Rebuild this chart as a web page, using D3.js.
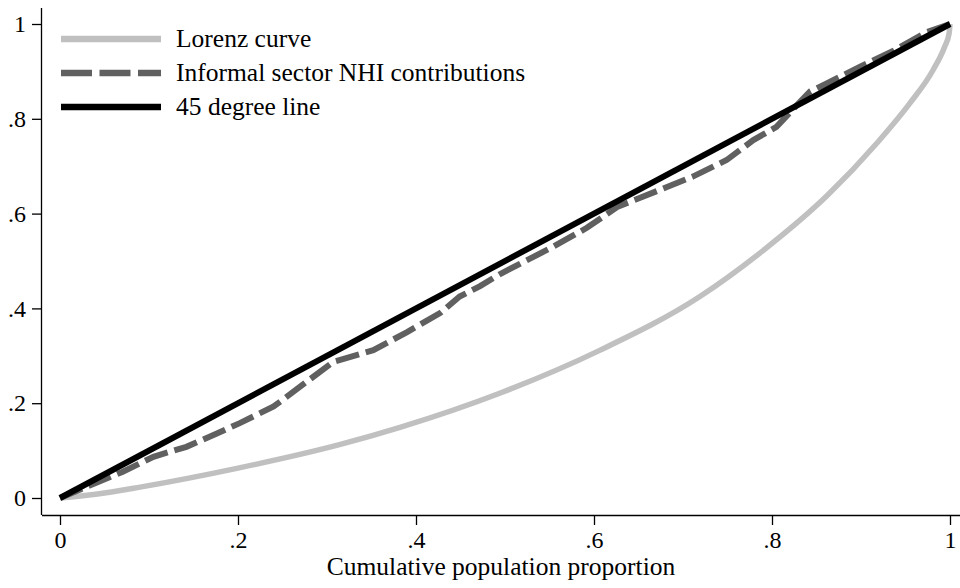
<!DOCTYPE html>
<html>
<head>
<meta charset="utf-8">
<script src="https://cdn.jsdelivr.net/npm/d3@7"></script>
<style>
  html, body { margin: 0; padding: 0; background: #fff; }
  text { font-family: "Liberation Serif", "Times New Roman", serif; }
</style>
</head>
<body>
<div id="wrapper"></div>
<script>
// values
const lorenzX = [0, 0.04, 0.09, 0.2, 0.315, 0.382, 0.494, 0.607, 0.719, 0.79, 0.862, 0.918, 0.955, 0.981, 0.994, 0.999, 1];
const lorenzY = [0, 0.008, 0.023, 0.063, 0.113, 0.149, 0.221, 0.312, 0.425, 0.522, 0.638, 0.749, 0.833, 0.903, 0.952, 0.98, 1];

const informalX = [0, 0.034, 0.07, 0.105, 0.142, 0.175, 0.202, 0.24, 0.277, 0.307, 0.352, 0.39, 0.427, 0.449, 0.472, 0.494, 0.554, 0.592, 0.626, 0.674, 0.711, 0.749, 0.779, 0.805, 0.831, 0.843, 0.862, 0.899, 0.936, 0.974, 1];
const informalY = [0, 0.027, 0.055, 0.087, 0.108, 0.135, 0.158, 0.193, 0.245, 0.287, 0.312, 0.35, 0.39, 0.425, 0.447, 0.472, 0.53, 0.57, 0.614, 0.65, 0.678, 0.713, 0.755, 0.783, 0.835, 0.858, 0.875, 0.91, 0.943, 0.983, 1];

const diagonalX = [0, 1];
const diagonalY = [0, 1];

const xTicks = [0, 0.2, 0.4, 0.6, 0.8, 1];
const yTicks = [0, 0.2, 0.4, 0.6, 0.8, 1];

const seriesNames = ['Lorenz curve', 'Informal sector NHI contributions', '45 degree line'];

const lorenz = lorenzX.map((x, i) => ({ x: x, y: lorenzY[i] }));
const informal = informalX.map((x, i) => ({ x: x, y: informalY[i] }));
const diagonal = diagonalX.map((x, i) => ({ x: x, y: diagonalY[i] }));

const dimensions = {
    width: 960,
    height: 588,
    margin: { top: 8, right: 0, bottom: 73, left: 42 }
};
dimensions.boundedWidth = dimensions.width - dimensions.margin.left - dimensions.margin.right;
dimensions.boundedHeight = dimensions.height - dimensions.margin.top - dimensions.margin.bottom;

const fmt = d => d === 0 ? '0' : d === 1 ? '1' : d3.format('.1f')(d).replace(/^0/, '');

const wrapper = d3.select('#wrapper')
    .append('svg')
    .attr('width', dimensions.width)
    .attr('height', dimensions.height);

const bounds = wrapper.append('g')
    .attr('transform', `translate(${dimensions.margin.left},${dimensions.margin.top})`);

// plot region padded like stata: 0 -> 60px, 1 -> 950px
const xScale = d3.scaleLinear()
    .domain([0, 1])
    .range([60 - dimensions.margin.left, 950 - dimensions.margin.left]);

const yScale = d3.scaleLinear()
    .domain([0, 1])
    .range([498 - dimensions.margin.top, 24 - dimensions.margin.top]);

const lineGenerator = d3.line()
    .x(d => xScale(d.x))
    .y(d => yScale(d.y));

bounds.append('path')
    .datum(lorenz)
    .attr('d', lineGenerator.curve(d3.curveMonotoneX))
    .attr('fill', 'none')
    .attr('stroke', '#c0c0c0')
    .attr('stroke-width', 5.5);

bounds.append('path')
    .datum(informal)
    .attr('d', lineGenerator.curve(d3.curveLinear))
    .attr('fill', 'none')
    .attr('stroke', '#606060')
    .attr('stroke-width', 6)
    .attr('stroke-dasharray', '24,7');

bounds.append('path')
    .datum(diagonal)
    .attr('d', lineGenerator.curve(d3.curveLinear))
    .attr('fill', 'none')
    .attr('stroke', '#000')
    .attr('stroke-width', 6);

const xAxisGenerator = d3.axisBottom(xScale)
    .tickValues(xTicks)
    .tickFormat(fmt)
    .tickSize(10)
    .tickPadding(6)
    .tickSizeOuter(0);

const xAxis = bounds.append('g')
    .attr('transform', `translate(0,${dimensions.boundedHeight})`)
    .call(xAxisGenerator);
xAxis.select('.domain').attr('d', `M0,0.5H${dimensions.boundedWidth}`);

const yAxisGenerator = d3.axisLeft(yScale)
    .tickValues(yTicks)
    .tickFormat(fmt)
    .tickSize(10)
    .tickPadding(6)
    .tickSizeOuter(0);

const yAxis = bounds.append('g')
    .call(yAxisGenerator);
yAxis.select('.domain').attr('d', `M-0.5,0V${dimensions.boundedHeight}`);

bounds.selectAll('.tick text')
    .attr('fill', '#000')
    .style('font-size', '24px');
bounds.selectAll('.domain, .tick line')
    .attr('stroke', '#000')
    .attr('stroke-width', 1.3);

bounds.append('text')
    .attr('x', dimensions.boundedWidth / 2)
    .attr('y', dimensions.boundedHeight + 60)
    .attr('text-anchor', 'middle')
    .attr('fill', '#000')
    .style('font-size', '25.5px')
    .text('Cumulative population proportion');

// legend
const legendStyles = [
    { stroke: '#c0c0c0', dash: null },
    { stroke: '#606060', dash: '31,7.5' },
    { stroke: '#000', dash: null }
];

const legend = wrapper.append('g')
    .attr('transform', 'translate(61,39)');

const items = legend.selectAll('g')
    .data(seriesNames)
    .enter()
    .append('g')
    .attr('transform', (d, i) => `translate(0,${i * 34})`);

items.append('line')
    .attr('x1', 0)
    .attr('x2', 100)
    .attr('stroke', (d, i) => legendStyles[i].stroke)
    .attr('stroke-width', 6.5)
    .attr('stroke-dasharray', (d, i) => legendStyles[i].dash);

items.append('text')
    .attr('x', 115)
    .attr('y', 8)
    .attr('fill', '#000')
    .style('font-size', '25.5px')
    .text(d => d);
</script>
</body>
</html>
